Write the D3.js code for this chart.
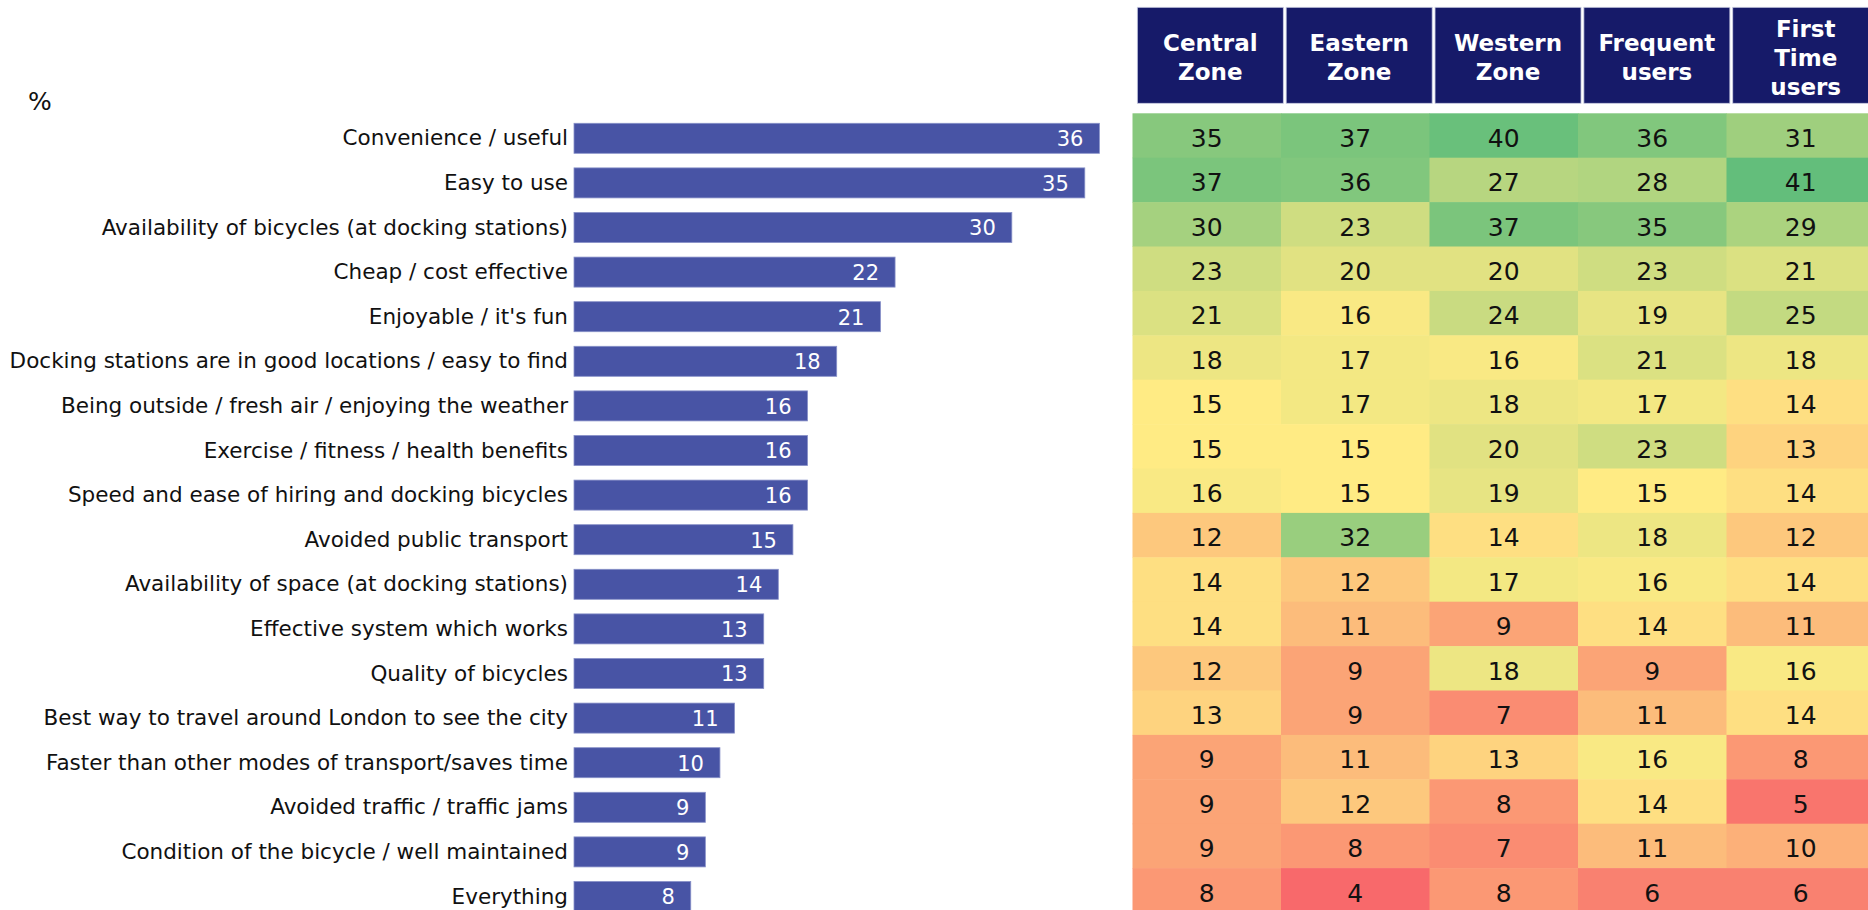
<!DOCTYPE html>
<html>
<head>
<meta charset="utf-8">
<script src="https://cdn.jsdelivr.net/npm/d3@7"></script>
<style>
  html, body { margin: 0; padding: 0; background: #ffffff; overflow: hidden; }
  svg { display: block; }
  text { font-family: "DejaVu Sans", Verdana, sans-serif; }
</style>
</head>
<body>
<svg id="chart" width="1868" height="910"></svg>
<script>
// ---- data ----
const categories = [
  "Convenience / useful",
  "Easy to use",
  "Availability of bicycles (at docking stations)",
  "Cheap / cost effective",
  "Enjoyable / it's fun",
  "Docking stations are in good locations / easy to find",
  "Being outside / fresh air / enjoying the weather",
  "Exercise / fitness / health benefits",
  "Speed and ease of hiring and docking bicycles",
  "Avoided public transport",
  "Availability of space (at docking stations)",
  "Effective system which works",
  "Quality of bicycles",
  "Best way to travel around London to see the city",
  "Faster than other modes of transport/saves time",
  "Avoided traffic / traffic jams",
  "Condition of the bicycle / well maintained",
  "Everything"
];
const totals = [36, 35, 30, 22, 21, 18, 16, 16, 16, 15, 14, 13, 13, 11, 10, 9, 9, 8];

const groups = ["Central Zone", "Eastern Zone", "Western Zone", "Frequent users", "First Time users"];
const groupHeaderLines = [["Central", "Zone"], ["Eastern", "Zone"], ["Western", "Zone"], ["Frequent", "users"], ["First", "Time", "users"]];

const centralZone   = [35, 37, 30, 23, 21, 18, 15, 15, 16, 12, 14, 14, 12, 13, 9, 9, 9, 8];
const easternZone   = [37, 36, 23, 20, 16, 17, 17, 15, 15, 32, 12, 11, 9, 9, 11, 12, 8, 4];
const westernZone   = [40, 27, 37, 20, 24, 16, 18, 20, 19, 14, 17, 9, 18, 7, 13, 8, 7, 8];
const frequentUsers = [36, 28, 35, 23, 19, 21, 17, 23, 15, 18, 16, 14, 9, 11, 16, 14, 11, 6];
const firstTimeUsers= [31, 41, 29, 21, 25, 18, 14, 13, 14, 12, 14, 11, 16, 14, 8, 5, 10, 6];
const groupValues = [centralZone, easternZone, westernZone, frequentUsers, firstTimeUsers];

const unitLabel = "%";

// ---- drawing ----
const svg = d3.select("#chart");

// bar chart
const yBar = d3.scaleBand()
  .domain(categories)
  .range([116, 116 + 18 * 44.6])
  .paddingInner(0.327)
  .paddingOuter(0.1635);
const xBar = d3.scaleLinear().domain([0, 40]).range([574, 574 + 40 * 14.594]);

svg.append("text")
  .attr("x", 28).attr("y", 110)
  .attr("font-size", 25).attr("fill", "#111")
  .text(unitLabel);

const barG = svg.append("g");
const rows = barG.selectAll("g.row").data(categories.map((c, i) => ({ c, v: totals[i] })))
  .join("g").attr("class", "row");

rows.append("rect")
  .attr("x", xBar(0))
  .attr("y", d => yBar(d.c))
  .attr("width", d => xBar(d.v) - xBar(0))
  .attr("height", yBar.bandwidth())
  .attr("fill", "#4854a5")
  .attr("stroke", "#8790c8")
  .attr("stroke-width", 0.8);

rows.append("text")
  .attr("x", xBar(0) - 6)
  .attr("y", d => yBar(d.c) + yBar.bandwidth() / 2)
  .attr("dy", "0.33em")
  .attr("text-anchor", "end")
  .attr("font-size", 21.5)
  .attr("fill", "#111")
  .text(d => d.c);

rows.append("text")
  .attr("x", d => xBar(d.v) - 16)
  .attr("y", d => yBar(d.c) + yBar.bandwidth() / 2)
  .attr("dy", "0.38em")
  .attr("text-anchor", "end")
  .attr("font-size", 21)
  .attr("fill", "#ffffff")
  .text(d => d.v);

// heatmap
const allVals = groupValues.flat();
const color = d3.scaleLinear()
  .domain([d3.min(allVals), d3.median(allVals), d3.max(allVals)])
  .range(["#F8696B", "#FFEB84", "#63BE7B"])
  .interpolate(d3.interpolateRgb);

const xHeat = d3.scaleBand().domain(groups).range([1132.5, 1132.5 + 5 * 148.5]);
const yHeat = d3.scaleBand().domain(categories).range([113.3, 113.3 + 18 * 44.4]);

const cells = [];
groups.forEach((g, gi) => categories.forEach((c, ci) => cells.push({ g, c, v: groupValues[gi][ci] })));

const heatG = svg.append("g");
heatG.selectAll("rect").data(cells).join("rect")
  .attr("x", d => xHeat(d.g))
  .attr("y", d => yHeat(d.c))
  .attr("width", xHeat.bandwidth() + 0.5)
  .attr("height", yHeat.bandwidth() + 0.5)
  .attr("fill", d => color(d.v));

heatG.selectAll("text").data(cells).join("text")
  .attr("x", d => xHeat(d.g) + xHeat.bandwidth() / 2)
  .attr("y", d => yHeat(d.c) + yHeat.bandwidth() / 2)
  .attr("dy", "0.45em")
  .attr("text-anchor", "middle")
  .attr("font-size", 25)
  .attr("fill", "#111")
  .text(d => d.v);

// header
const xHead = d3.scaleBand().domain(groups).range([1135.9, 1135.9 + 5 * 148.85])
  .paddingInner(0.0192).paddingOuter(0.0096);
const headTop = 7.3, headBottom = 103.3;
const headG = svg.append("g");
const heads = headG.selectAll("g").data(groups.map((g, i) => ({ g, lines: groupHeaderLines[i] }))).join("g");
heads.append("rect")
  .attr("x", d => xHead(d.g))
  .attr("y", headTop)
  .attr("width", xHead.bandwidth())
  .attr("height", headBottom - headTop)
  .attr("fill", "#161a69")
  .attr("stroke", "#c9cce2")
  .attr("stroke-width", 0.8);
heads.each(function(d) {
  const n = d.lines.length;
  const cx = xHead(d.g) + xHead.bandwidth() / 2;
  const cy = (headTop + headBottom) / 2;
  d3.select(this).selectAll("text").data(d.lines).join("text")
    .attr("x", cx)
    .attr("y", (l, i) => cy + (i - (n - 1) / 2) * 29 + 10.5)
    .attr("text-anchor", "middle")
    .attr("font-size", 23)
    .attr("font-weight", "bold")
    .attr("fill", "#ffffff")
    .text(l => l);
});
</script>
</body>
</html>
